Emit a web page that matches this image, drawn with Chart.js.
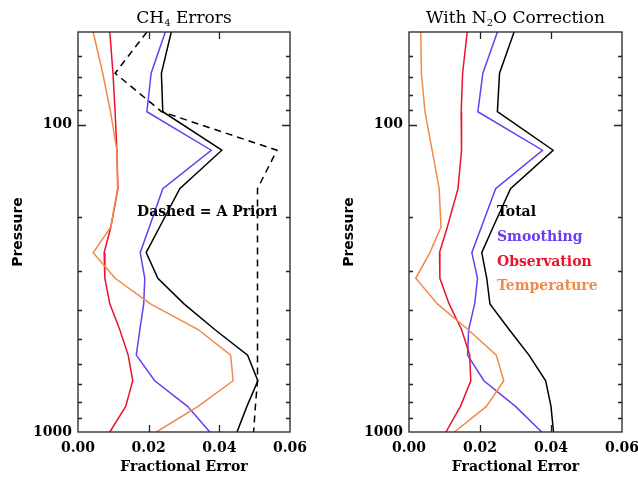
<!DOCTYPE html>
<html>
<head>
<meta charset="utf-8">
<script src="https://cdn.jsdelivr.net/npm/chart.js@4/dist/chart.umd.min.js"></script>
<style>
  html, body { margin: 0; padding: 0; background: #fff; }
  body { width: 638px; height: 477px; position: relative; overflow: hidden; }
  .panel { position: absolute; top: 0; height: 477px; }
</style>
</head>
<body>
<div class="panel" style="left:0;width:320px"><canvas id="leftChart"></canvas></div>
<div class="panel" style="left:310px;width:340px"><canvas id="rightChart"></canvas></div>
<script>
// pressure levels (hPa), shared by every profile
const pressure = [50, 68.1, 90.85, 121.2, 161.6, 215.4, 261, 316.2, 383.1, 464.2, 562.3, 681.3, 825.4, 1000];

// CH4 errors
const ch4Total       = [0.0264, 0.0236, 0.0240, 0.0407, 0.0288, 0.0231, 0.0193, 0.0226, 0.0300, 0.0387, 0.0480, 0.0509, 0.0478, 0.0450];
const ch4Smoothing   = [0.0247, 0.0207, 0.0195, 0.0377, 0.0240, 0.0202, 0.0176, 0.0189, 0.0186, 0.0175, 0.0165, 0.0217, 0.0310, 0.0373];
const ch4Observation = [0.0090, 0.0099, 0.0105, 0.0110, 0.0113, 0.0093, 0.0074, 0.0076, 0.0090, 0.0118, 0.0142, 0.0155, 0.0135, 0.0090];
const ch4Temperature = [0.0043, 0.0070, 0.0092, 0.0110, 0.0112, 0.0093, 0.0043, 0.0105, 0.0205, 0.0340, 0.0432, 0.0439, 0.0340, 0.0222];
const ch4Apriori     = [0.0195, 0.0105, 0.0237, 0.0563, 0.0508, 0.0508, 0.0508, 0.0508, 0.0508, 0.0508, 0.0508, 0.0508, 0.0502, 0.0497];

// with N2O correction
const n2oTotal       = [0.0296, 0.0255, 0.0249, 0.0406, 0.0286, 0.0237, 0.0205, 0.0219, 0.0228, 0.0282, 0.0338, 0.0385, 0.0400, 0.0407];
const n2oSmoothing   = [0.0249, 0.0208, 0.0194, 0.0376, 0.0244, 0.0204, 0.0177, 0.0193, 0.0185, 0.0168, 0.0165, 0.0211, 0.0300, 0.0374];
const n2oObservation = [0.0164, 0.0151, 0.0147, 0.0148, 0.0138, 0.0108, 0.0086, 0.0087, 0.0113, 0.0148, 0.0171, 0.0174, 0.0145, 0.0104];
const n2oTemperature = [0.0033, 0.0035, 0.0045, 0.0065, 0.0085, 0.0090, 0.0059, 0.0019, 0.0080, 0.0166, 0.0246, 0.0267, 0.0218, 0.0128];

// axis ticks
const xTicks = [0, 0.02, 0.04, 0.06];
const yLabelTicks = [100, 1000];
const yMinorTicks = [60, 70, 80, 90, 200, 300, 400, 500, 600, 700, 800, 900];

const COL = {
  total: '#000000',
  smoothing: '#6a3cf2',
  observation: '#e8132c',
  temperature: '#f08a48'
};
const tickFont = { family: 'DejaVu Serif', size: 14, weight: 'bold' };

function profile(vals, color, dash) {
  return {
    data: vals.map((v, i) => ({ x: v, y: pressure[i] })),
    borderColor: color,
    borderWidth: 1.5,
    borderDash: dash || [],
    showLine: true,
    pointRadius: 0,
    tension: 0
  };
}

// frame, inward ticks, titles and notes
const decorate = {
  id: 'decorate',
  afterDatasetsDraw(chart, args, o) {
    const ctx = chart.ctx, a = chart.chartArea;
    const xs = chart.scales.x, ys = chart.scales.y;
    ctx.save();
    ctx.strokeStyle = '#222';
    ctx.lineWidth = 1.3;
    ctx.strokeRect(a.left, a.top, a.right - a.left, a.bottom - a.top);
    ctx.beginPath();
    xTicks.slice(1, -1).forEach(v => {
      const px = Math.round(xs.getPixelForValue(v)) + 0.5;
      ctx.moveTo(px, a.bottom); ctx.lineTo(px, a.bottom - 7);
      ctx.moveTo(px, a.top); ctx.lineTo(px, a.top + 7);
    });
    yMinorTicks.forEach(v => {
      const py = Math.round(ys.getPixelForValue(v)) + 0.5;
      ctx.moveTo(a.left, py); ctx.lineTo(a.left + 4, py);
      ctx.moveTo(a.right, py); ctx.lineTo(a.right - 4, py);
    });
    [100].forEach(v => {
      const py = Math.round(ys.getPixelForValue(v)) + 0.5;
      ctx.moveTo(a.left, py); ctx.lineTo(a.left + 8, py);
      ctx.moveTo(a.right, py); ctx.lineTo(a.right - 8, py);
    });
    ctx.stroke();

    // title with subscript
    const cx = (a.left + a.right) / 2;
    const big = '17px "DejaVu Serif"', small = '10px "DejaVu Serif"';
    let w = 0;
    o.title.forEach(p => { ctx.font = p.sub ? small : big; w += ctx.measureText(p.t).width; });
    let x = cx - w / 2;
    ctx.fillStyle = '#000';
    ctx.textBaseline = 'alphabetic';
    ctx.textAlign = 'left';
    o.title.forEach(p => {
      ctx.font = p.sub ? small : big;
      ctx.fillText(p.t, x, p.sub ? 26 : 23);
      x += ctx.measureText(p.t).width;
    });

    // axis titles
    ctx.textAlign = 'center';
    ctx.textBaseline = 'middle';
    ctx.font = 'bold 14px "DejaVu Serif"';
    ctx.fillText('Fractional Error', cx, 467);
    ctx.save();
    ctx.translate(a.left - 60, 232);
    ctx.rotate(-Math.PI / 2);
    ctx.font = 'bold 14px "DejaVu Sans"';
    ctx.fillText('Pressure', 0, 0);
    ctx.restore();

    // notes
    ctx.textAlign = 'left';
    ctx.font = 'bold 14px "DejaVu Serif"';
    o.notes.forEach(n => {
      ctx.fillStyle = n.color;
      ctx.fillText(n.text, a.left + n.dx, n.y);
    });
    ctx.restore();
  }
};

function makePanel(id, datasets, plotLeft, padRight, title, notes) {
  new Chart(document.getElementById(id), {
    type: 'scatter',
    data: { datasets: datasets },
    options: {
      responsive: true,
      maintainAspectRatio: false,
      animation: false,
      layout: { padding: { left: 0, right: padRight, top: 32, bottom: 0 } },
      plugins: {
        legend: { display: false },
        tooltip: { enabled: false },
        decorate: { title: title, notes: notes }
      },
      scales: {
        x: {
          type: 'linear', min: 0, max: 0.06,
          afterBuildTicks: ax => { ax.ticks = xTicks.map(v => ({ value: v })); },
          afterFit: ax => { ax.height = 45; },
          grid: { display: false, drawTicks: false, tickLength: 0 },
          border: { display: false },
          ticks: { font: tickFont, color: '#000', padding: 8, maxRotation: 0, callback: v => v.toFixed(2) }
        },
        y: {
          type: 'logarithmic', min: 50, max: 1000, reverse: true,
          afterBuildTicks: ax => { ax.ticks = yLabelTicks.map(v => ({ value: v })); },
          afterFit: ax => { ax.width = plotLeft; },
          grid: { display: false, drawTicks: false, tickLength: 0 },
          border: { display: false },
          ticks: { font: tickFont, color: '#000', padding: 6, callback: v => String(v) }
        }
      }
    },
    plugins: [decorate]
  });
}

makePanel('leftChart', [
  profile(ch4Temperature, COL.temperature),
  profile(ch4Observation, COL.observation),
  profile(ch4Smoothing, COL.smoothing),
  profile(ch4Total, COL.total),
  profile(ch4Apriori, COL.total, [7, 5])
], 78, 30, [{ t: 'CH' }, { t: '4', sub: true }, { t: ' Errors' }], [
  { text: 'Dashed = A Priori', dx: 59, y: 212, color: '#000' }
]);

makePanel('rightChart', [
  profile(n2oTemperature, COL.temperature),
  profile(n2oObservation, COL.observation),
  profile(n2oSmoothing, COL.smoothing),
  profile(n2oTotal, COL.total)
], 99, 28, [{ t: 'With N' }, { t: '2', sub: true }, { t: 'O Correction' }], [
  { text: 'Total', dx: 88, y: 212, color: '#000' },
  { text: 'Smoothing', dx: 88, y: 237, color: COL.smoothing },
  { text: 'Observation', dx: 88, y: 262, color: COL.observation },
  { text: 'Temperature', dx: 88, y: 286, color: COL.temperature }
]);
</script>
</body>
</html>
